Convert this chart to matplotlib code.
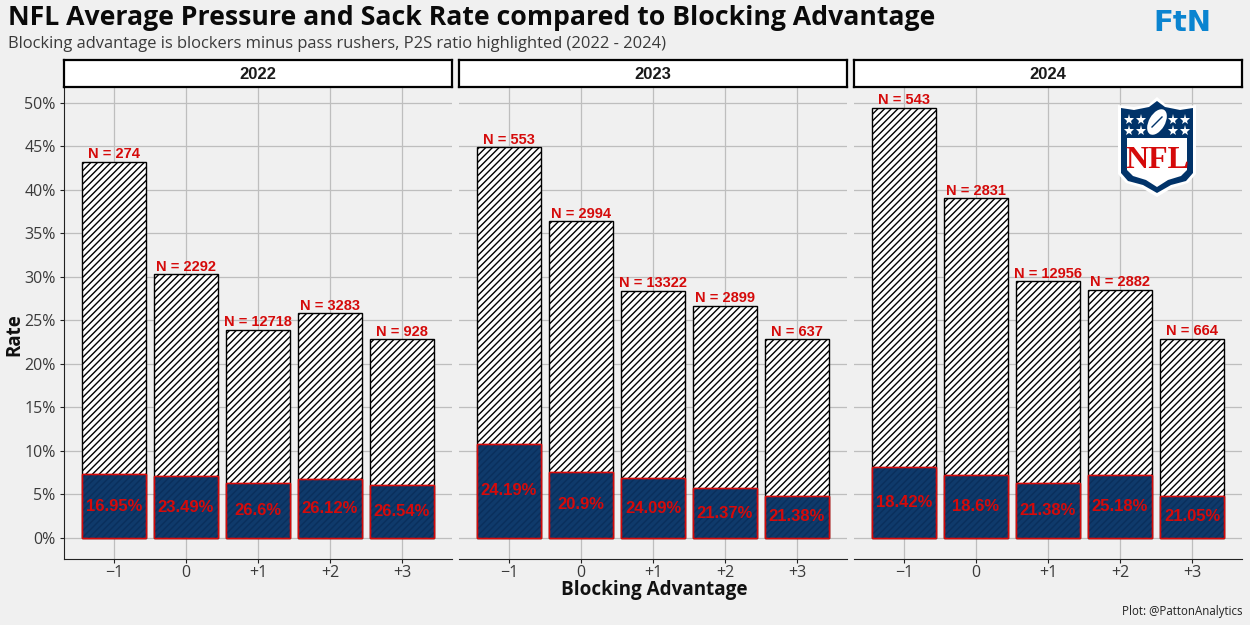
import matplotlib
matplotlib.use("Agg")
import matplotlib.pyplot as plt
from matplotlib.patches import Polygon, Ellipse

# Values
years = ["2022", "2023", "2024"]
advantage = ["\u22121", "0", "+1", "+2", "+3"]
pressure_2022 = [43.2, 30.3, 23.9, 25.8, 22.8]
pressure_2023 = [44.9, 36.4, 28.4, 26.7, 22.8]
pressure_2024 = [49.4, 39.0, 29.5, 28.5, 22.9]
sack_2022 = [7.3, 7.1, 6.35, 6.75, 6.05]
sack_2023 = [10.85, 7.6, 6.85, 5.7, 4.85]
sack_2024 = [8.1, 7.25, 6.3, 7.2, 4.85]
ratio_2022 = ["16.95%", "23.49%", "26.6%", "26.12%", "26.54%"]
ratio_2023 = ["24.19%", "20.9%", "24.09%", "21.37%", "21.38%"]
ratio_2024 = ["18.42%", "18.6%", "21.38%", "25.18%", "21.05%"]
n_2022 = [274, 2292, 12718, 3283, 928]
n_2023 = [553, 2994, 13322, 2899, 637]
n_2024 = [543, 2831, 12956, 2882, 664]

pressure = [pressure_2022, pressure_2023, pressure_2024]
sack = [sack_2022, sack_2023, sack_2024]
ratio = [ratio_2022, ratio_2023, ratio_2024]
counts = [n_2022, n_2023, n_2024]

W, H = 1250, 625
BG = "#f0f0f0"
NAVY = "#0f3a6b"
RED = "#d50a0a"
GRID = "#bebebe"
TXT = "#3a3a3a"
UI = ["Open Sans", "DejaVu Sans"]
LAB = ["Liberation Sans", "DejaVu Sans"]

plt.rcParams["hatch.linewidth"] = 1.0

fig = plt.figure(figsize=(W / 100, H / 100), dpi=100, facecolor=BG)


# Pixel box (top-left origin) to figure fractions
def box(x0, y0, x1, y1):
    return [x0 / W, 1 - y1 / H, (x1 - x0) / W, (y1 - y0) / H]


lefts = [64, 459, 854]
for i, left in enumerate(lefts):
    ax = fig.add_axes(box(left, 87, left + 388, 559), facecolor=BG)
    x = range(len(advantage))
    ax.bar(x, pressure[i], width=0.9, color="white", edgecolor="black",
           hatch="/////", linewidth=1.0, zorder=2)
    ax.bar(x, sack[i], width=0.9, color=NAVY, edgecolor=RED, linewidth=1.0, zorder=3)
    # faint dark hatch on the sack bars
    ax.bar(x, sack[i], width=0.9, color="none", edgecolor="#0a2f5c",
           hatch="/////", linewidth=0, zorder=3.5)
    ax.bar(x, sack[i], width=0.9, color="none", edgecolor=RED, linewidth=1.0, zorder=3.6)

    for j in x:
        ax.text(j, pressure[i][j] + 0.05, f"N = {counts[i][j]}", color=RED, ha="center",
                va="bottom", fontsize=10.5, fontweight="bold", family=LAB, zorder=5)
        ax.text(j, sack[i][j] / 2, ratio[i][j], color=RED, ha="center", va="center",
                fontsize=12, fontweight="bold", family=LAB, zorder=5)

    ax.set_xlim(-0.694, 4.694)
    ax.set_ylim(-2.41, 51.8)
    ax.set_yticks(range(0, 51, 5))
    ax.set_xticks(list(x))
    ax.set_xticklabels(advantage, family=UI, fontsize=11.5, color=TXT)
    ax.grid(True, color=GRID, linewidth=0.9, zorder=0)
    ax.set_axisbelow(True)
    for side in ["top", "right"]:
        ax.spines[side].set_visible(False)
    ax.spines["bottom"].set_color("#222222")
    ax.tick_params(axis="x", length=3, color="#222222", pad=1)
    if i == 0:
        ax.set_yticklabels([f"{v}%" for v in range(0, 51, 5)], family=UI, fontsize=11.5, color=TXT)
        ax.tick_params(axis="y", length=3, color="#222222", pad=3)
        ax.spines["left"].set_color("#222222")
    else:
        ax.tick_params(axis="y", length=0, labelleft=False)
        ax.spines["left"].set_visible(False)

    # year strip
    strip = fig.add_axes(box(left, 60, left + 388, 87), facecolor="white")
    strip.set_xticks([])
    strip.set_yticks([])
    for s in strip.spines.values():
        s.set_linewidth(1.6)
        s.set_color("black")
    strip.text(0.5, 0.48, years[i], ha="center", va="center", fontsize=12,
               fontweight="bold", family=LAB, color="#1a1a1a", transform=strip.transAxes)

fig.text(8 / W, 1 - 18 / H, "NFL Average Pressure and Sack Rate compared to Blocking Advantage",
         fontsize=19.2, fontweight="bold", family=UI, color="#0a0a0a", va="center")
fig.text(8 / W, 1 - 44 / H, "Blocking advantage is blockers minus pass rushers, P2S ratio highlighted (2022 - 2024)",
         fontsize=11.9, family=UI, color=TXT, va="center")
fig.text(14 / W, 1 - 335 / H, "Rate", fontsize=13.5, fontweight="bold", family=UI, color="#111111",
         rotation=90, ha="center", va="center")
fig.text(654 / W, 1 - 590 / H, "Blocking Advantage", fontsize=13.6, fontweight="bold", family=UI,
         color="#111111", ha="center", va="center")
fig.text(1242 / W, 1 - 611 / H, "Plot: @PattonAnalytics", fontsize=8.3, family=UI, color="#222222",
         ha="right", va="center")
fig.text(1182 / W, 1 - 23 / H, "FtN", fontsize=21, fontweight="bold", family=["DejaVu Sans"],
         color="#0a84d0", ha="center", va="center")

# NFL shield, in pixel coordinates on a full-figure overlay
logo = fig.add_axes([0, 0, 1, 1], facecolor="none", zorder=10)
logo.set_xlim(0, W)
logo.set_ylim(H, 0)
logo.axis("off")
outer = [(1157, 97), (1165, 104), (1180, 107), (1196, 105), (1196, 174), (1188, 183),
         (1172, 188), (1157, 197), (1142, 188), (1126, 183), (1118, 174), (1118, 105),
         (1134, 107), (1149, 104)]
inner = [(1157, 101), (1165, 107), (1180, 110), (1193, 108), (1193, 173), (1186, 181),
         (1171, 185), (1157, 193), (1143, 185), (1128, 181), (1121, 173), (1121, 108),
         (1134, 110), (1149, 107)]
logo.add_patch(Polygon(outer, closed=True, facecolor="white", edgecolor="none"))
logo.add_patch(Polygon(inner, closed=True, facecolor="#013369", edgecolor="none"))
logo.add_patch(Polygon([(1127, 138), (1187, 138), (1187, 170), (1181, 176), (1168, 180),
                        (1157, 187), (1146, 180), (1133, 176), (1127, 170)],
                       closed=True, facecolor="white", edgecolor="none"))
logo.add_patch(Ellipse((1157, 122), 16, 28, angle=30, facecolor="white", edgecolor="none"))
logo.plot([1152, 1162], [127, 117], color="#013369", lw=1)
for sx in [1129, 1141, 1173, 1185]:
    for sy in [120, 131]:
        logo.plot(sx, sy, marker="*", ms=8, color="white", mew=0)
logo.text(1157, 160, "NFL", fontsize=23, fontweight="bold", family=["Liberation Serif"], color=RED,
          ha="center", va="center")

fig.savefig("out.png", dpi=100, facecolor=BG)
